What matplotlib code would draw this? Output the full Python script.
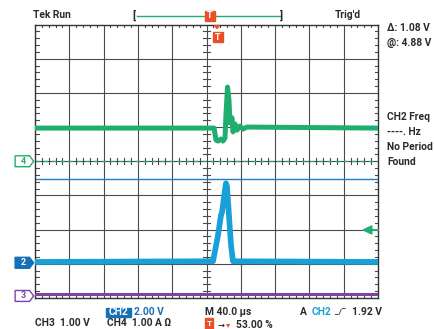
# Tek scope capture: CH2 voltage pulse, CH4 current, CH3 flat, 40 us/div
import numpy as np
import matplotlib.pyplot as plt
from matplotlib.patches import Polygon, Rectangle

plt.rcParams['font.family'] = ['Roboto', 'DejaVu Sans']

# scope settings
t_per_div = 40.0          # us/div
trig_pos = 5.3            # divisions from left (53 %)
ch2_scale, ch2_gnd = 2.0, -2.97   # V/div, ground offset in div
ch3_scale, ch3_gnd = 1.0, -3.94
ch4_scale, ch4_gnd = 1.0, 0.0     # A/div
cursor_v = 4.88           # V on CH2
trig_level = 1.92         # V on CH2

# CH4 current (A) vs time (us)
ch4_t = [-212, -3.2, -0.9, 1.4, 4.9, 7.2, 9.6, 10.7, 12.5, 14.2, 15.4, 17.7,
         18.9, 21.2, 23.6, 27.1, 30.6, 35.2, 188]
ch4_a = [0.97, 0.97, 0.62, 0.59, 0.65, 0.59, 0.68, 1.36, 2.17, 1.79, 1.12, 1.27,
         0.86, 1.09, 0.91, 1.03, 0.94, 1.00, 0.97]

# CH2 voltage (V) vs time (us)
ch2_t = [-212, -4.4, 1.4, 4.9, 6.1, 8.4, 10.7, 11.9, 14.2, 16.6, 18.9, 188]
ch2_v = [0.05, 0.09, 1.61, 2.78, 2.95, 3.83, 4.65, 4.47, 2.78, 1.02, 0.09, 0.05]

# CH3 voltage (V)
ch3_t = [-212, 188]
ch3_v = [0.07, 0.07]

GREEN = '#1fae6f'
BLUE = '#1aa0d8'
DBLUE = '#1670b5'
PURPLE = '#7d44a5'
ORANGE = '#e8502a'
GRID = '#4a4a4a'
TXT = '#2b2b2b'

W, H = 434, 329
fig = plt.figure(figsize=(W / 100, H / 100), dpi=100)
ax = fig.add_axes([35 / W, 31 / H, 343 / W, 273.5 / H])
t0 = -trig_pos * t_per_div
t1 = t0 + 10 * t_per_div
ax.set_xlim(t0, t1)
ax.set_ylim(-4, 4)
ax.set_xticks([])
ax.set_yticks([])
for s in ax.spines.values():
    s.set_color('#333333')
    s.set_linewidth(1.0)

# graticule
for k in range(1, 10):
    ax.axvline(t0 + k * t_per_div, color=GRID, lw=0.8, zorder=1)
for k in range(-3, 4):
    ax.axhline(k, color=GRID, lw=0.8, zorder=1)

# minor ticks
tx = 3.5 / 34.3 * t_per_div
ty = 3.0 / 34.2
tc = t0 + 5 * t_per_div
for k in range(50):
    if k % 5 == 0:
        continue
    x = t0 + k * t_per_div / 5
    ax.plot([x, x], [4, 4 - ty], color=GRID, lw=0.8, zorder=1)
    ax.plot([x, x], [-4, -4 + ty], color=GRID, lw=0.8, zorder=1)
    ax.plot([x, x], [-ty, ty], color=GRID, lw=0.8, zorder=1)
for k in range(40):
    if k % 5 == 0:
        continue
    y = -4 + k * 0.2
    ax.plot([t0, t0 + tx], [y, y], color=GRID, lw=0.8, zorder=1)
    ax.plot([t1, t1 - tx], [y, y], color=GRID, lw=0.8, zorder=1)
    ax.plot([tc - tx, tc + tx], [y, y], color=GRID, lw=0.8, zorder=1)

# CH4 ground reference (dashed)
ax.plot([t0, t1], [ch4_gnd, ch4_gnd], color=GREEN, lw=1.0, ls=(0, (3, 3)), zorder=2)
# cursor
ax.axhline(ch2_gnd + cursor_v / ch2_scale, color='#1e7fc8', lw=1.0, zorder=2)

# traces
ax.plot(ch3_t, np.array(ch3_v) / ch3_scale + ch3_gnd, color=PURPLE, lw=2.2, zorder=3)
ax.plot(ch4_t, np.array(ch4_a) / ch4_scale + ch4_gnd, color=GREEN, lw=3.6,
        solid_joinstyle='round', zorder=4)
ax.plot(ch2_t, np.array(ch2_v) / ch2_scale + ch2_gnd, color=BLUE, lw=4.1,
        solid_joinstyle='round', zorder=5)

# channel markers at left
ytr = ax.get_yaxis_transform()
def marker(y, label, color, filled):
    pts = [(-0.058, y - 0.16), (-0.016, y - 0.16), (-0.004, y), (-0.016, y + 0.16), (-0.058, y + 0.16)]
    ax.add_patch(Polygon(pts, closed=True, transform=ytr, clip_on=False,
                         facecolor=color if filled else 'white', edgecolor=color, lw=1.0))
    ax.text(-0.033, y, label, transform=ytr, ha='center', va='center', fontsize=6.5,
            color='white' if filled else color, fontweight='bold', clip_on=False)
marker(ch4_gnd, '4', GREEN, False)
marker(ch2_gnd, '2', DBLUE, True)
marker(ch3_gnd, '3', PURPLE, False)

# trigger level arrow on right
yl = ch2_gnd + trig_level / ch2_scale
ax.add_patch(Polygon([(0.957, yl), (0.982, yl - 0.12), (0.982, yl + 0.12)], closed=True,
                     transform=ytr, clip_on=False, color=GREEN, zorder=6))
ax.plot([0.98, 1.0], [yl, yl], transform=ytr, color=GREEN, lw=1.4, clip_on=False, zorder=6)

# figure text in pixel coordinates
def P(x, y):
    return x / W, 1 - y / H

def txt(x, y, s, color=TXT, size=7.4, **kw):
    fig.text(*P(x, y), s, color=color, fontsize=size, fontweight='bold', va='center', **kw)

txt(33, 15, 'Tek Run')
txt(335, 15, "Trig'd")
txt(132, 15, '[', size=8)
txt(280, 15, ']', size=8)
fig.add_artist(plt.Line2D([137 / W, 281 / W], [1 - 15.7 / H] * 2, color=GREEN, lw=1.0, zorder=1))

def tbox(x, y):
    fig.add_artist(Rectangle(P(x, y + 5), 10 / W, 10 / H, transform=fig.transFigure,
                             color=ORANGE, zorder=5))
    fig.text(*P(x + 5, y), 'T', color='white', fontsize=6.5, fontweight='bold',
             ha='center', va='center', zorder=6)
tbox(205, 15.5)
tbox(213, 37)
fig.add_artist(Polygon([P(214.5, 25.5), P(219.5, 25.5), P(217, 28.5)], closed=True,
                       transform=fig.transFigure, color=ORANGE))

txt(387, 28, 'Δ: 1.08 V')
txt(387, 43, '@: 4.88 V')
txt(387, 117, 'CH2 Freq')
txt(387, 132, '----. Hz')
txt(387, 147, 'No Period')
txt(387, 162, 'Found')

# bottom readouts
fig.add_artist(Rectangle(P(106, 316.5), 25 / W, 9 / H, transform=fig.transFigure, color=DBLUE))
fig.text(*P(118.5, 312), 'CH2', color='white', fontsize=7.4, fontweight='bold', ha='center', va='center')
txt(134, 312, '2.00 V', color=DBLUE)
txt(35, 323, 'CH3  1.00 V')
txt(107, 323, 'CH4  1.00 A Ω')
txt(205, 312, 'M 40.0 µs')
txt(300, 312, 'A')
txt(312, 312, 'CH2', color=BLUE)
txt(335, 312, '_/‾', size=6)
txt(352, 312, '1.92 V')
fig.add_artist(Rectangle(P(205, 329), 8 / W, 11 / H, transform=fig.transFigure, color=ORANGE))
fig.text(*P(209, 324), 'T', color='white', fontsize=6, fontweight='bold', ha='center', va='center')
txt(217, 325, '→', size=6)
txt(226, 325, '▾', color=ORANGE, size=6)
txt(236, 325, '53.00 %')

fig.savefig('out.png', dpi=100)
